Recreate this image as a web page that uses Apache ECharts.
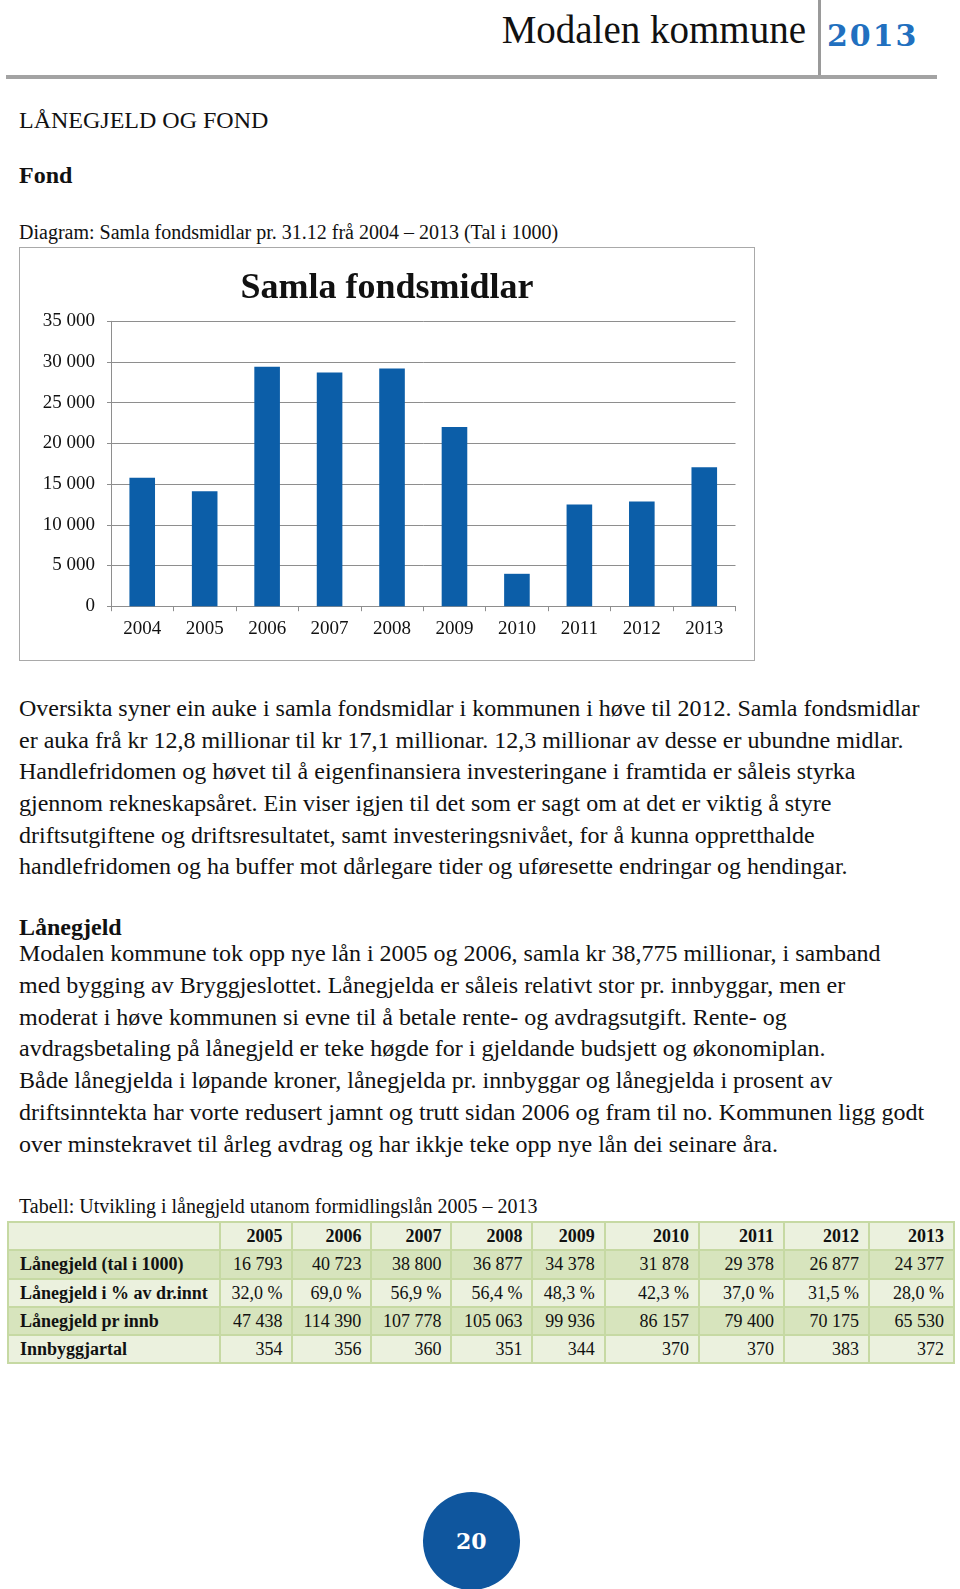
<!DOCTYPE html>
<html><head><meta charset="utf-8">
<script src="https://cdn.jsdelivr.net/npm/echarts@6/dist/echarts.min.js"></script>
<style>
html,body{margin:0;padding:0;background:#fff;}
#page{position:relative;width:960px;height:1589px;overflow:hidden;background:#fff;font-family:"Liberation Serif","Times New Roman",serif;color:#111;}
.abs{position:absolute;white-space:nowrap;}
.p24{font-size:24px;}
#chartBox{position:absolute;left:19px;top:247px;width:736px;height:414px;box-sizing:border-box;border:1.5px solid #a9a9a9;}
#chart{position:absolute;left:19px;top:247px;width:736px;height:414px;}
#tbl{position:absolute;left:7px;top:1221px;border-collapse:collapse;table-layout:fixed;font-size:18px;border:2px solid #b4cb8c;}
#tbl td{border:2px solid #c6d9a3;height:26.3px;padding:0 9px 0 4px;text-align:right;white-space:nowrap;overflow:hidden;line-height:24px;}
#tbl td.lab{text-align:left;padding-left:11px;font-weight:bold;}
#tbl tr.hd td{font-weight:bold;}
#tbl tr.light td{background:#ebf1de;}
#tbl tr.dark td{background:#d7e4bd;}
</style></head>
<body><div id="page">
  <div class="abs" style="right:154px;top:7px;font-size:39px;line-height:46px;">Modalen kommune</div>
  <div class="abs" style="left:818px;top:0;width:2.5px;height:76px;background:#9a9a9a;"></div>
  <div class="abs" style="left:827px;top:18.6px;font-family:'DejaVu Serif',serif;font-weight:bold;font-size:30px;line-height:34px;letter-spacing:2px;color:#2170bf;">2013</div>
  <div class="abs" style="left:6px;top:75px;width:931px;height:4px;background:#a3a3a3;"></div>

  <div class="abs p24" style="left:19px;top:105px;line-height:30px;">LÅNEGJELD OG FOND</div>
  <div class="abs p24" style="left:19px;top:160px;line-height:30px;font-weight:bold;">Fond</div>
  <div class="abs" style="left:19px;top:219px;font-size:20px;line-height:26px;">Diagram: Samla fondsmidlar pr. 31.12 frå 2004 – 2013 (Tal i 1000)</div>

  <div id="chartBox"></div>
  <div id="chart"></div>

  <div class="abs p24" style="left:19px;top:693px;line-height:31.65px;">Oversikta syner ein auke i samla fondsmidlar i kommunen i høve til 2012. Samla fondsmidlar<br>er auka frå kr 12,8 millionar til kr 17,1 millionar. 12,3 millionar av desse er ubundne midlar.<br>Handlefridomen og høvet til å eigenfinansiera investeringane i framtida er såleis styrka<br>gjennom rekneskapsåret. Ein viser igjen til det som er sagt om at det er viktig å styre<br>driftsutgiftene og driftsresultatet, samt investeringsnivået, for å kunna oppretthalde<br>handlefridomen og ha buffer mot dårlegare tider og uføresette endringar og hendingar.</div>

  <div class="abs p24" style="left:19px;top:912px;line-height:30px;font-weight:bold;">Lånegjeld</div>
  <div class="abs p24" style="left:19px;top:938px;line-height:31.75px;">Modalen kommune tok opp nye lån i 2005 og 2006, samla kr 38,775 millionar, i samband<br>med bygging av Bryggjeslottet. Lånegjelda er såleis relativt stor pr. innbyggar, men er<br>moderat i høve kommunen si evne til å betale rente- og avdragsutgift. Rente- og<br>avdragsbetaling på lånegjeld er teke høgde for i gjeldande budsjett og økonomiplan.<br>Både lånegjelda i løpande kroner, lånegjelda pr. innbyggar og lånegjelda i prosent av<br>driftsinntekta har vorte redusert jamnt og trutt sidan 2006 og fram til no. Kommunen ligg godt<br>over minstekravet til årleg avdrag og har ikkje teke opp nye lån dei seinare åra.</div>

  <div class="abs" style="left:19px;top:1193px;font-size:20px;line-height:26px;">Tabell: Utvikling i lånegjeld utanom formidlingslån 2005 – 2013</div>
  <table id="tbl"></table>

  <div class="abs" style="left:422.7px;top:1492.3px;width:97.4px;height:97.4px;border-radius:50%;background:#0f569e;"></div>
  <div class="abs" style="left:422.7px;top:1492.3px;width:97.4px;height:97.4px;line-height:99px;text-align:center;font-family:'DejaVu Serif',serif;font-weight:bold;font-size:22px;color:#fff;">20</div>
</div>
<script>
// ---- Chart data ----
const years = ['2004','2005','2006','2007','2008','2009','2010','2011','2012','2013'];
const fondsmidlar = [15770, 14120, 29430, 28700, 29200, 22000, 3980, 12490, 12850, 17080];
const yMin = 0, yMax = 35000, yStep = 5000;

// ---- Table data ----
const tableYears = ['2005','2006','2007','2008','2009','2010','2011','2012','2013'];
const rowLabels = ['Lånegjeld (tal i 1000)','Lånegjeld i % av dr.innt','Lånegjeld pr innb','Innbyggjartal'];
const laanegjeld = [16793, 40723, 38800, 36877, 34378, 31878, 29378, 26877, 24377];
const prosentDrInnt = [32.0, 69.0, 56.9, 56.4, 48.3, 42.3, 37.0, 31.5, 28.0];
const prInnb = [47438, 114390, 107778, 105063, 99936, 86157, 79400, 70175, 65530];
const innbyggjartal = [354, 356, 360, 351, 344, 370, 370, 383, 372];

function thou(v){ return String(Math.round(v)).replace(/\B(?=(\d{3})+(?!\d))/g, ' '); }
function pct(v){ return v.toFixed(1).replace('.', ',') + ' %'; }

// build table
const colW = [211.7, 72.7, 79, 80, 81, 72.3, 94.3, 85, 85, 85];
const tbl = document.getElementById('tbl');
let html = '<colgroup>' + colW.map(w => '<col style="width:' + w + 'px">').join('') + '</colgroup>';
html += '<tr class="hd light"><td class="lab"></td>' + tableYears.map(y => '<td>' + y + '</td>').join('') + '</tr>';
const rows = [laanegjeld.map(thou), prosentDrInnt.map(pct), prInnb.map(thou), innbyggjartal.map(thou)];
rows.forEach((r, i) => {
  html += '<tr class="' + (i % 2 === 0 ? 'dark' : 'light') + '"><td class="lab">' + rowLabels[i] + '</td>' + r.map(c => '<td>' + c + '</td>').join('') + '</tr>';
});
tbl.innerHTML = html;
tbl.style.width = colW.reduce((a, b) => a + b, 0) + 'px';

// chart
const chart = echarts.init(document.getElementById('chart'), null, {renderer: 'canvas'});
const serif = 'Liberation Serif';
const axisGrey = '#8e8e8e';
chart.setOption({
  animation: false,
  title: {
    text: 'Samla fondsmidlar', left: 'center', top: 17,
    textStyle: {fontFamily: serif, fontSize: 36, fontWeight: 'bold', color: '#111', lineHeight: 40}
  },
  grid: {left: 92, right: 19.5, top: 74.3, height: 284.9, containLabel: false, outerBoundsMode: 'none'},
  xAxis: {
    type: 'category', data: years,
    axisLine: {show: true, lineStyle: {color: axisGrey, width: 1}},
    axisTick: {show: true, length: 5, lineStyle: {color: axisGrey}},
    axisLabel: {fontFamily: serif, fontSize: 19, color: '#111', margin: 13}
  },
  yAxis: {
    type: 'value', min: yMin, max: yMax, interval: yStep,
    axisLine: {show: true, lineStyle: {color: axisGrey, width: 1}},
    axisTick: {show: true, length: 4, lineStyle: {color: axisGrey}},
    splitLine: {show: true, lineStyle: {color: axisGrey, width: 1}},
    axisLabel: {fontFamily: serif, fontSize: 19, color: '#111', margin: 16, formatter: v => thou(v)}
  },
  series: [{type: 'bar', data: fondsmidlar, barWidth: '41%', itemStyle: {color: '#0c5ea8'}}]
});
</script>
</body></html>
